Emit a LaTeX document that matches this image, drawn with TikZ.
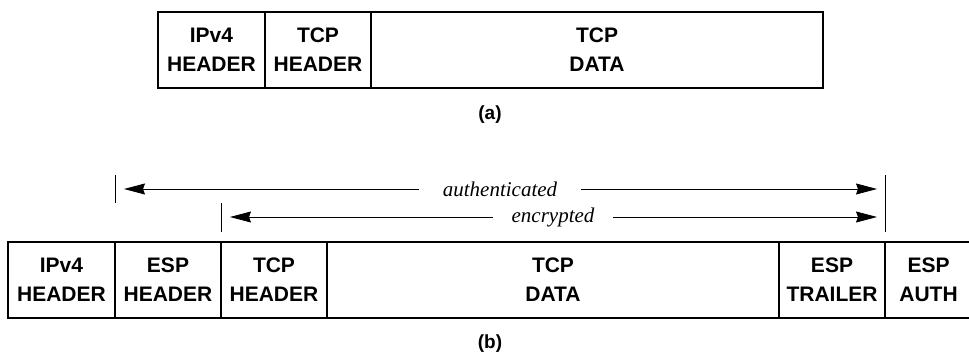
\documentclass[tikz,border=0pt]{standalone}
\usepackage{fontspec}
\setmainfont{Liberation Serif}
\newfontfamily\hdrfont{Liberation Sans}
\usetikzlibrary{arrows.meta,calc}

\tikzset{
  field/.style={draw, line width=1.4pt, inner sep=0pt, minimum height=76pt,
    align=center, font=\hdrfont\bfseries\fontsize{21}{29}\selectfont},
  caption/.style={font=\hdrfont\bfseries\fontsize{19}{19}\selectfont},
  tick/.style={line width=1pt},
  span/.style={line width=0.8pt, {Stealth[length=21pt,width=11pt,inset=2pt]}-{Stealth[length=21pt,width=11pt,inset=2pt]}, shorten <=9pt, shorten >=8pt},
  spanlabel/.style={fill=white, inner xsep=24pt, inner ysep=1pt, font=\itshape\fontsize{21}{21}\selectfont}
}

\begin{document}
\begin{tikzpicture}[x=1pt, y=-1pt]
		\useasboundingbox (0,0) rectangle (969,353);
		% (a) plain IPv4 datagram
		\node[field, minimum width=107pt] (ipa)   at (211.5,50) {IPv4\\HEADER};
		\node[field, minimum width=106pt] (tcpha) at (318,50)   {TCP\\HEADER};
		\node[field, minimum width=452pt] (tcpda) at (597,50)   {TCP\\DATA};
		\node[caption] (capa) at (490,115) {(a)};
		% (b) datagram with ESP, last field runs off the right edge
		\node[field, minimum width=107pt] (ipb)   at (61.5,280) {IPv4\\HEADER};
		\node[field, minimum width=106pt] (esph)  at (168,280)  {ESP\\HEADER};
		\node[field, minimum width=106pt] (tcphb) at (274,280)  {TCP\\HEADER};
		\node[field, minimum width=452pt] (tcpdb) at (553,280)  {TCP\\DATA};
		\node[field, minimum width=106pt] (espt)  at (832,280)  {ESP\\TRAILER};
		\node[field, minimum width=87pt]  (espa)  at (928.5,280) {ESP\\AUTH};
		\node[caption] (capb) at (490,344) {(b)};
		% end marks of the covered ranges
		\coordinate (authL) at (115,189);
		\coordinate (authR) at (885,189);
		\coordinate (encL)  at (221,217);
		\coordinate (encR)  at (885,217);
		\draw[tick] (115,175) -- (115,203);
		\draw[tick] (221,203) -- (221,232);
		\draw[tick] (885,175) -- (885,232);
		% ranges
		\draw[span] (authL) -- (authR);
		\node[spanlabel] (auth) at ($(authL)!0.5!(authR)$) {authenticated};
		\draw[span] (encL) -- (encR);
		\node[spanlabel, inner xsep=19pt] (enc) at ($(encL)!0.5!(encR)$) {encrypted};
	\end{tikzpicture}
\end{document}
